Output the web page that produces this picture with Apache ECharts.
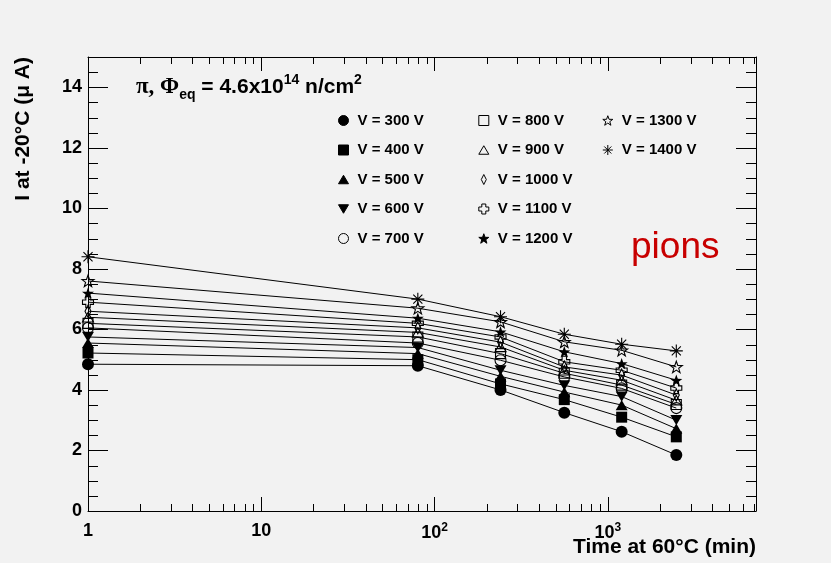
<!DOCTYPE html>
<html>
<head>
<meta charset="utf-8">
<script src="https://cdn.jsdelivr.net/npm/echarts@6/dist/echarts.min.js"></script>
<style>
html,body{margin:0;padding:0;background:#f2f2f2;}
#chart{width:831px;height:563px;}
</style>
</head>
<body>
<div id="chart"></div>
<script>
// ---- data ----
const times = [1, 80, 240, 560, 1200, 2480];
const seriesNames = ['V = 300 V','V = 400 V','V = 500 V','V = 600 V','V = 700 V','V = 800 V','V = 900 V','V = 1000 V','V = 1100 V','V = 1200 V','V = 1300 V','V = 1400 V'];
const v300  = [4.85, 4.80, 4.00, 3.25, 2.62, 1.85];
const v400  = [5.22, 5.00, 4.20, 3.68, 3.10, 2.45];
const v500  = [5.55, 5.20, 4.45, 3.93, 3.50, 2.72];
const v600  = [5.75, 5.40, 4.65, 4.15, 3.78, 3.00];
const v700  = [6.05, 5.55, 4.98, 4.43, 4.05, 3.40];
const v800  = [6.20, 5.75, 5.20, 4.55, 4.16, 3.52];
const v900  = [6.40, 5.90, 5.42, 4.65, 4.32, 3.66];
const v1000 = [6.60, 6.05, 5.58, 4.76, 4.49, 3.83];
const v1100 = [6.90, 6.20, 5.75, 4.93, 4.65, 4.06];
const v1200 = [7.20, 6.37, 5.92, 5.26, 4.87, 4.32];
const v1300 = [7.60, 6.70, 6.25, 5.59, 5.31, 4.76];
const v1400 = [8.40, 7.00, 6.42, 5.84, 5.51, 5.29];
const allValues = [v300, v400, v500, v600, v700, v800, v900, v1000, v1100, v1200, v1300, v1400];
const xMajorLabels = {1: '1', 10: '10', 100: '{b|10}{sup|2}', 1000: '{b|10}{sup|3}'};
const xMinorTicks = [2,3,4,5,6,7,8,9,20,30,40,50,60,70,80,90,200,300,400,500,600,700,800,900,2000,3000,4000,5000,6000,7000];
const yMinorTicks = [0.5,1,1.5,2.5,3,3.5,4.5,5,5.5,6.5,7,7.5,8.5,9,9.5,10.5,11,11.5,12.5,13,13.5,14.5];

// ---- styles ----
const STAR = 'path://M5,0 L6.18,3.38 L9.76,3.45 L6.9,5.62 L7.94,9.05 L5,7 L2.06,9.05 L3.1,5.62 L0.24,3.45 L3.82,3.38 Z';
const styles = [
  {symbol: 'circle', size: 12, filled: true},
  {symbol: 'rect', size: 11, filled: true},
  {symbol: 'path://M5,0 L10,8.5 L0,8.5 Z', size: 12, filled: true},
  {symbol: 'path://M0,0 L10,0 L5,8.5 Z', size: 12, filled: true},
  {symbol: 'circle', size: 11, filled: false},
  {symbol: 'rect', size: 10, filled: false},
  {symbol: 'path://M5,0 L10,8.5 L0,8.5 Z', size: 11, filled: false},
  {symbol: 'path://M3,0 L6,6 L3,12 L0,6 Z', size: 12, filled: false},
  {symbol: 'path://M3,0 H7 V3 H10 V7 H7 V10 H3 V7 H0 V3 H3 Z', size: 11, filled: false},
  {symbol: STAR, size: 12, filled: true},
  {symbol: STAR, size: 12, filled: false},
  {symbol: 'path://M5,0 V10 M0,5 H10 M1.5,1.5 L8.5,8.5 M8.5,1.5 L1.5,8.5', size: 13, filled: false}
];

const FONT = '"Liberation Sans", Arial, Helvetica, sans-serif';

const lineSeries = seriesNames.map((name, i) => ({
  name: name,
  type: 'line',
  xAxisIndex: 0, yAxisIndex: 0,
  data: times.map((t, j) => [t, allValues[i][j]]),
  symbol: styles[i].symbol,
  symbolSize: styles[i].size,
  symbolKeepAspect: true,
  showSymbol: true,
  lineStyle: {color: '#000', width: 1},
  itemStyle: styles[i].filled
    ? {color: '#000', borderColor: '#000', borderWidth: 0}
    : {color: 'rgba(0,0,0,0)', borderColor: '#000', borderWidth: 1.1},
  emphasis: {disabled: true},
  animation: false,
  z: 3
}));

const tickSeriesX = {
  type: 'custom', silent: true, z: 4, clip: false,
  xAxisIndex: 0, yAxisIndex: 0,
  data: xMinorTicks.map(v => [v, 0]),
  renderItem: (params, api) => {
    const cs = params.coordSys;
    const p = api.coord([api.value(0), 0]);
    const x = Math.round(p[0]) + 0.5;
    return {type: 'group', children: [
      {type: 'line', shape: {x1: x, y1: cs.y + cs.height, x2: x, y2: cs.y + cs.height - 7}, style: {stroke: '#000', lineWidth: 1}},
      {type: 'line', shape: {x1: x, y1: cs.y, x2: x, y2: cs.y + 7}, style: {stroke: '#000', lineWidth: 1}}
    ]};
  }
};
const tickSeriesY = {
  type: 'custom', silent: true, z: 4, clip: false,
  xAxisIndex: 0, yAxisIndex: 0,
  data: yMinorTicks.map(v => [1, v]),
  renderItem: (params, api) => {
    const cs = params.coordSys;
    const p = api.coord([1, api.value(1)]);
    const y = Math.round(p[1]) + 0.5;
    return {type: 'group', children: [
      {type: 'line', shape: {x1: cs.x, y1: y, x2: cs.x + 10, y2: y}, style: {stroke: '#000', lineWidth: 1}},
      {type: 'line', shape: {x1: cs.x + cs.width, y1: y, x2: cs.x + cs.width - 10, y2: y}, style: {stroke: '#000', lineWidth: 1}}
    ]};
  }
};

function legendFor(idxs, left) {
  return {
    orient: 'vertical', left: left, top: 113, padding: 0,
    itemWidth: 10, itemHeight: 10, itemGap: 14.5,
    symbolKeepAspect: true,
    selectedMode: false,
    itemStyle: {borderWidth: 1},
    textStyle: {fontFamily: FONT, fontWeight: 'bold', fontSize: 15, color: '#000', padding: [0, 0, 0, 4]},
    data: idxs.map(i => ({name: seriesNames[i], icon: styles[i].symbol}))
  };
}

const axisLineStyle = {show: true, onZero: false, lineStyle: {color: '#000', width: 1}};

const option = {
  backgroundColor: '#f2f2f2',
  animation: false,
  grid: {left: 88, right: 75, top: 57, bottom: 52, show: false},
  title: {
    left: 136, top: 73, padding: 0,
    text: '{g|π, Φ}{sub|eq}{b| = 4.6x10}{sup|14}{b| n/cm}{sup|2}',
    textStyle: {
      rich: {
        g: {fontFamily: '"Liberation Serif", "Times New Roman", serif', fontSize: 23, lineHeight: 29, color: '#000'},
        b: {fontFamily: FONT, fontWeight: 'bold', fontSize: 21, lineHeight: 29, color: '#000'},
        sub: {fontFamily: FONT, fontWeight: 'bold', fontSize: 14, lineHeight: 14, verticalAlign: 'bottom', color: '#000'},
        sup: {fontFamily: FONT, fontWeight: 'bold', fontSize: 14, lineHeight: 14, verticalAlign: 'top', color: '#000'}
      }
    }
  },
  legend: [
    legendFor([0,1,2,3,4], 338),
    legendFor([5,6,7,8,9], 478.3),
    legendFor([10,11], 602.3)
  ],
  xAxis: [
    {
      type: 'log', logBase: 10, min: 1, max: 7150, splitNumber: 4,
      position: 'bottom',
      axisLine: axisLineStyle,
      axisTick: {show: true, inside: true, length: 14, lineStyle: {color: '#000'}},
      splitLine: {show: false},
      axisLabel: {
        margin: 11, showMaxLabel: false, color: '#000',
        fontFamily: FONT, fontWeight: 'bold', fontSize: 18,
        formatter: v => xMajorLabels[Math.round(v)] || '',
        rich: {
          b: {fontFamily: FONT, fontWeight: 'bold', fontSize: 18, lineHeight: 22, color: '#000'},
          sup: {fontFamily: FONT, fontWeight: 'bold', fontSize: 12, lineHeight: 12, verticalAlign: 'top', color: '#000'}
        }
      }
    },
    {
      type: 'log', logBase: 10, min: 1, max: 7150, splitNumber: 4,
      position: 'top',
      axisLine: axisLineStyle,
      axisTick: {show: true, inside: true, length: 14, lineStyle: {color: '#000'}},
      splitLine: {show: false},
      axisLabel: {show: false}
    }
  ],
  yAxis: [
    {
      type: 'value', min: 0, max: 15, interval: 2,
      axisLine: axisLineStyle,
      axisTick: {show: true, inside: true, length: 20, lineStyle: {color: '#000'}},
      splitLine: {show: false},
      axisLabel: {margin: 6, showMaxLabel: false, color: '#000', fontFamily: FONT, fontWeight: 'bold', fontSize: 18}
    },
    {
      type: 'value', min: 0, max: 15, interval: 2, position: 'right',
      axisLine: axisLineStyle,
      axisTick: {show: true, inside: true, length: 20, lineStyle: {color: '#000'}},
      splitLine: {show: false},
      axisLabel: {show: false}
    }
  ],
  graphic: [
    {type: 'text', x: 23, y: 57, rotation: Math.PI / 2,
     style: {text: 'I at -20°C (μ A)', font: 'bold 21px "Liberation Sans", Arial, sans-serif', fill: '#000', align: 'right', verticalAlign: 'middle'}},
    {type: 'text', x: 756, y: 547,
     style: {text: 'Time at 60°C (min)', font: 'bold 21px "Liberation Sans", Arial, sans-serif', fill: '#000', align: 'right', verticalAlign: 'middle'}},
    {type: 'text', x: 631, y: 248,
     style: {text: 'pions', font: '37px "Liberation Sans", Arial, sans-serif', fill: '#c80000', align: 'left', verticalAlign: 'middle'}}
  ],
  series: [tickSeriesX, tickSeriesY].concat(lineSeries)
};

const chart = echarts.init(document.getElementById('chart'), null, {renderer: 'canvas'});
chart.setOption(option);
</script>
</body>
</html>
